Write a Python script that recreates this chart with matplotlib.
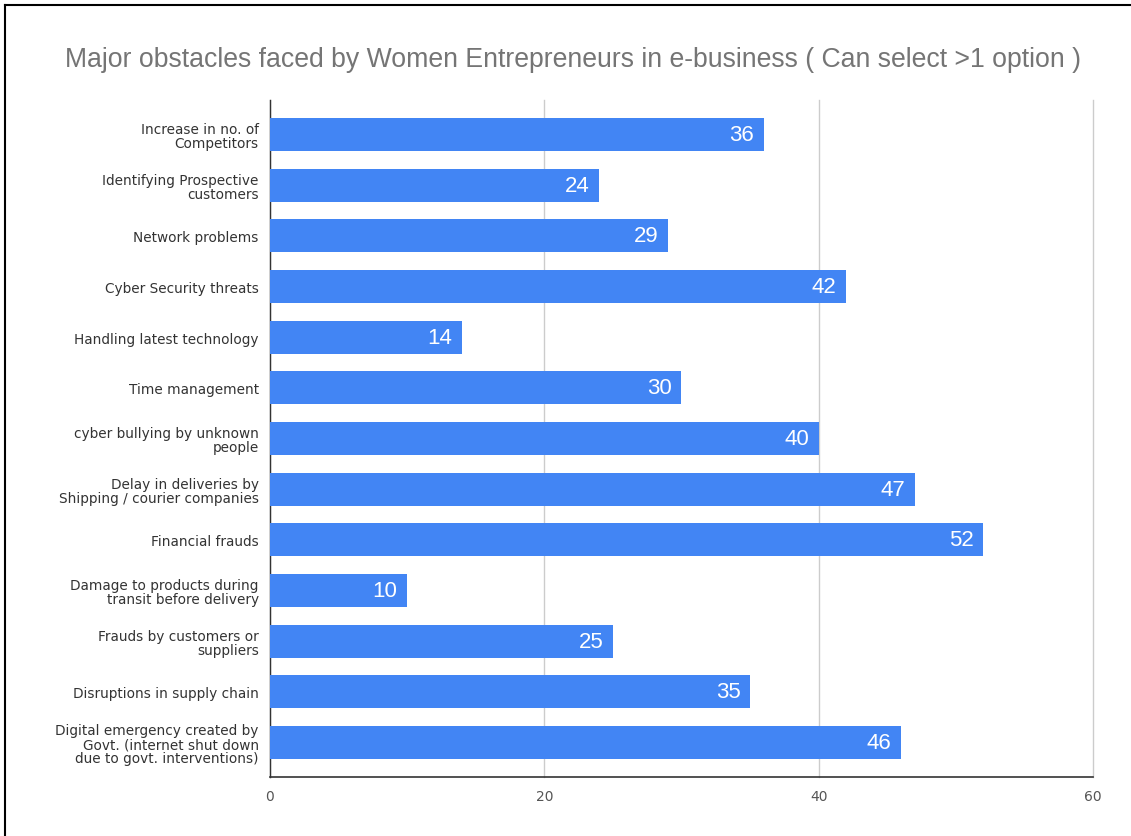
import matplotlib.pyplot as plt
from matplotlib.lines import Line2D

plt.rcParams['font.family'] = ['Liberation Sans', 'DejaVu Sans']

categories = [
    "Increase in no. of\nCompetitors",
    "Identifying Prospective\ncustomers",
    "Network problems",
    "Cyber Security threats",
    "Handling latest technology",
    "Time management",
    "cyber bullying by unknown\npeople",
    "Delay in deliveries by\nShipping / courier companies",
    "Financial frauds",
    "Damage to products during\ntransit before delivery",
    "Frauds by customers or\nsuppliers",
    "Disruptions in supply chain",
    "Digital emergency created by\nGovt. (internet shut down\ndue to govt. interventions)",
]
counts = [36, 24, 29, 42, 14, 30, 40, 47, 52, 10, 25, 35, 46]
xticks = [0, 20, 40, 60]

fig = plt.figure(figsize=(11.31, 8.37), dpi=100)
ax = fig.add_axes([0.2387, 0.0705, 0.7277, 0.8088])

pos = list(range(len(categories)))
bars = ax.barh(pos, counts, height=0.65, color='#4285F4', zorder=3)
ax.set_ylim(len(categories) - 0.32, -0.68)
ax.set_xlim(0, 60)

for b, v in zip(bars, counts):
    ax.text(v - 0.7, b.get_y() + b.get_height() / 2, str(v), ha='right', va='center',
            color='white', fontsize=16, zorder=4)

ax.set_yticks(pos)
ax.set_yticklabels(categories, fontsize=9.8, color='#333333', linespacing=1.02,
                   family='DejaVu Sans')
ax.tick_params(axis='y', length=0, pad=8)
ax.set_xticks(xticks)
ax.tick_params(axis='x', length=0, pad=9, labelsize=10, labelcolor='#555555')
for lbl in ax.get_xticklabels():
    lbl.set_family('DejaVu Sans')

ax.grid(axis='x', color='#cccccc', linewidth=1, zorder=0)
for gl in ax.get_xgridlines():
    gl.set_clip_on(False)
for s in ['top', 'right']:
    ax.spines[s].set_visible(False)
ax.spines['left'].set_color('#333333')
ax.spines['bottom'].set_color('#333333')
ax.spines['left'].set_linewidth(1)
ax.spines['bottom'].set_linewidth(1.2)

fig.text(0.507, 0.928, "Major obstacles faced by Women Entrepreneurs in e-business ( Can select >1 option )",
         ha='center', va='center', fontsize=19.2, color='#757575')

# screenshot frame on top and left edges
fig.add_artist(Line2D([0.004, 1.0], [0.993, 0.993], transform=fig.transFigure, color='black', linewidth=1.5))
fig.add_artist(Line2D([0.0045, 0.0045], [0.0, 0.993], transform=fig.transFigure, color='black', linewidth=1.5))

fig.savefig('out.png', dpi=100)
